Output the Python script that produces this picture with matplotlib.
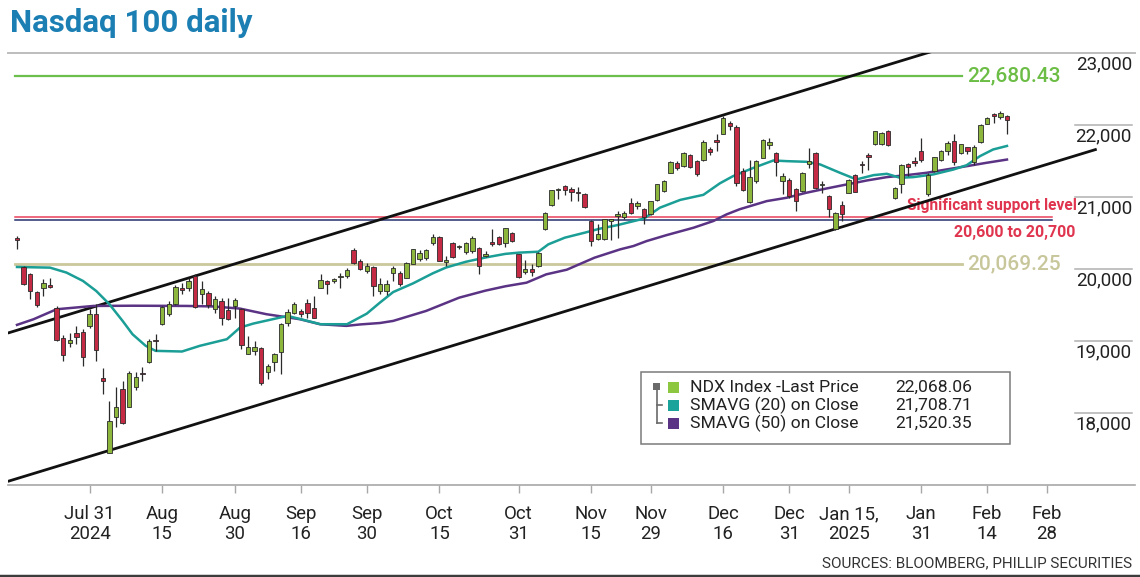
import matplotlib
matplotlib.use("Agg")
import matplotlib.pyplot as plt
import matplotlib.transforms as mtransforms
from matplotlib.patches import Rectangle
from matplotlib.lines import Line2D
import pandas as pd

plt.rcParams['font.family'] = ['Roboto', 'DejaVu Sans']

# US market holidays inside the window, so the x axis runs on trading days
HOLIDAYS = ['2024-09-02', '2024-11-28', '2024-12-25', '2025-01-01',
            '2025-01-09', '2025-01-20', '2025-02-17']

TICK_DATES = ['2024-07-31', '2024-08-15', '2024-08-30', '2024-09-16', '2024-09-30',
              '2024-10-15', '2024-10-31', '2024-11-15', '2024-11-29', '2024-12-16',
              '2024-12-31', '2025-01-15', '2025-01-31', '2025-02-14', '2025-02-28']
TICK_LABELS = ['Jul 31\n2024', 'Aug\n15', 'Aug\n30', 'Sep\n16', 'Sep\n30', 'Oct\n15',
               'Oct\n31', 'Nov\n15', 'Nov\n29', 'Dec\n16', 'Dec\n31', 'Jan 15,\n2025',
               'Jan\n31', 'Feb\n14', 'Feb\n28']

# daily candles, 16 Jul 2024 .. 20 Feb 2025
opens = [20425, 20028, 19927, 19682, 19732, 19779, 19464, 19039, 18975, 19118,
         19131, 19210, 19372, 18480, 17440, 17940, 18330, 18087, 18364, 18560,
         18702, 19020, 19233, 19372, 19511, 19735, 19742, 19903, 19650, 19672,
         19441, 19557, 19432, 19487, 19441, 18826, 18855, 18896, 18563, 18715,
         18854, 19256, 19386, 19420, 19534, 19464, 19742, 19834, 19834, 19895,
         19903, 20259, 20110, 19975, 20028, 19700, 19700, 19950, 19949, 19880,
         20075, 20140, 20150, 20355, 20440, 20100, 20365, 20300, 20230, 20250,
         20296, 20180, 20370, 20444, 20365, 20504, 20203, 19960, 20005, 20041,
         20550, 20885, 21095, 21150, 21105, 21070, 21045, 20665, 20410, 20411,
         20660, 20730, 20725, 20920, 20875, 20836, 20760, 20952, 21082, 21336,
         21474, 21428, 21590, 21498, 21507, 21660, 21790, 21877, 22030, 21975,
         21360, 20925, 21225, 21545, 21720, 21610, 21220, 21240, 21105, 21085,
         21460, 21610, 21160, 21010, 20550, 20885, 21060, 21310, 21460, 21580,
         21730, 21730, 21912, 20980, 21175, 21460, 21500, 21640, 21045, 21360,
         21510, 21640, 21775, 21615, 21690, 21480, 21760, 22020, 22150, 22110,
         22125]
highs = [20458, 20045, 19945, 19700, 19857, 19880, 19485, 19085, 19118, 19210,
         19164, 19441, 19511, 18623, 18170, 18355, 18447, 18586, 18563, 18632,
         19030, 19095, 19490, 19557, 19780, 19811, 19880, 19925, 19834, 19695,
         19626, 19603, 19603, 19595, 19464, 19071, 19000, 18910, 18680, 18840,
         19250, 19440, 19540, 19440, 19580, 19626, 19927, 19850, 19880, 19950,
         20010, 20296, 20140, 20080, 20045, 19880, 19850, 20042, 19970, 20095,
         20280, 20270, 20273, 20480, 20460, 20180, 20380, 20340, 20380, 20460,
         20310, 20250, 20550, 20460, 20575, 20520, 20215, 20130, 20070, 20230,
         20790, 21100, 21125, 21170, 21140, 21140, 21060, 20680, 20625, 20700,
         20700, 20810, 20805, 20980, 20945, 20850, 20950, 21180, 21240, 21495,
         21505, 21625, 21600, 21510, 21790, 21700, 21870, 22122, 22050, 22000,
         21400, 21520, 21510, 21800, 21820, 21630, 21336, 21260, 21120, 21345,
         21680, 21620, 21220, 21030, 20790, 20943, 21250, 21320, 21500, 21610,
         21920, 21900, 21925, 21135, 21460, 21470, 21560, 21820, 21335, 21560,
         21655, 21775, 21870, 21740, 21700, 21720, 22010, 22105, 22168, 22200,
         22140]
lows = [20273, 19780, 19580, 19474, 19626, 19740, 19000, 18725, 18910, 18956,
        18655, 19187, 18725, 18262, 17439, 17800, 17845, 18078, 18318, 18447,
        18690, 18864, 19225, 19349, 19500, 19649, 19700, 19465, 19510, 19465,
        19395, 19224, 19290, 19326, 18886, 18817, 18800, 18390, 18470, 18586,
        18540, 19210, 19370, 19330, 19325, 19320, 19730, 19649, 19800, 19742,
        19880, 20075, 19980, 19950, 19630, 19650, 19640, 19834, 19760, 19870,
        20065, 20115, 20120, 20340, 20105, 20041, 20150, 20280, 20205, 20226,
        19926, 20160, 20320, 20330, 20300, 20380, 19870, 19926, 19900, 20030,
        20540, 20875, 20975, 21030, 20940, 20950, 20850, 20320, 20400, 20400,
        20400, 20430, 20700, 20760, 20830, 20620, 20750, 20940, 21070, 21330,
        21380, 21415, 21400, 21290, 21500, 21590, 21640, 21870, 21935, 21150,
        21080, 20910, 21200, 21540, 21660, 21290, 21036, 20985, 20804, 21075,
        21400, 21110, 21060, 20720, 20540, 20666, 21050, 21070, 21340, 21380,
        21720, 21720, 21715, 20970, 21060, 21290, 21430, 21480, 21010, 21350,
        21500, 21590, 21450, 21600, 21600, 21450, 21750, 22010, 22030, 22080,
        21870]
closes = [20405, 19790, 19695, 19501, 19811, 19752, 19011, 18808, 19020, 19050,
          18780, 19372, 18873, 18440, 17890, 18077, 17855, 18549, 18503, 18540,
          19002, 19005, 19474, 19520, 19751, 19710, 19834, 19474, 19720, 19501,
          19580, 19326, 19303, 19566, 18942, 18923, 18923, 18410, 18655, 18817,
          19233, 19409, 19520, 19380, 19395, 19326, 19843, 19790, 19857, 19905,
          19982, 20088, 19995, 20040, 19765, 19795, 19797, 20020, 19787, 20088,
          20273, 20225, 20270, 20440, 20115, 20130, 20160, 20316, 20365, 20425,
          20041, 20215, 20345, 20351, 20564, 20390, 19890, 20000, 19960, 20217,
          20780, 21095, 21110, 21095, 21065, 21050, 20860, 20395, 20490, 20688,
          20690, 20760, 20780, 20780, 20910, 20720, 20943, 21174, 21229, 21488,
          21405, 21613, 21415, 21322, 21766, 21630, 21760, 22099, 21985, 21190,
          21095, 21275, 21495, 21785, 21770, 21480, 21290, 21012, 20945, 21335,
          21500, 21125, 21180, 20830, 20780, 20757, 21240, 21075, 21440, 21560,
          21910, 21890, 21725, 21128, 21450, 21410, 21470, 21510, 21310, 21550,
          21645, 21750, 21480, 21730, 21640, 21700, 22005, 22095, 22130, 22160,
          22068]

# moving averages, sampled along the drawn curves (trading-day index, value)
sma20_idx = [0, 5, 7.5, 10, 12, 14, 16, 17.5, 19.5, 21, 25, 27.7, 31.8, 33.8, 35.8,
             41, 46, 50, 53, 55, 57, 60, 63, 65, 68, 71, 74, 76, 79, 80.5, 83, 86,
             88.3, 91, 95, 97.4, 100.5, 102.5, 104, 106.5, 108.5, 111.6, 114.6,
             116.6, 119.6, 121.7, 124.7, 127.2, 129.8, 131.8, 133.8, 135.8, 138.8,
             141.9, 143.9, 145.9, 147.9, 150]
sma20_val = [20028, 20019, 19950, 19834, 19695, 19511, 19279, 19094, 18933, 18863,
             18854, 18933, 19025, 19187, 19242, 19349, 19233, 19233, 19380, 19534,
             19680, 19800, 19940, 20020, 20100, 20160, 20210, 20227, 20240, 20342,
             20435, 20504, 20560, 20610, 20700, 20851, 20960, 21000, 21030, 21190,
             21290, 21405, 21507, 21498, 21489, 21452, 21336, 21244, 21304, 21322,
             21267, 21276, 21313, 21382, 21442, 21567, 21660, 21709]
sma50_idx = [0, 2.5, 6, 11.6, 17.6, 25.7, 29.7, 33.8, 37.8, 42.9, 45.9, 49.9, 52,
             55, 57, 62, 67, 71, 74, 77.2, 80.2, 83.3, 87.5, 91.4, 93.4, 95.4, 98.4,
             102.5, 105.5, 106.5, 107.5, 109.5, 113.6, 116.6, 119.6, 122.7, 125.7,
             128.8, 131.8, 134.8, 137.8, 140.8, 143.9, 146.9, 150]
sma50_val = [19224, 19302, 19441, 19487, 19490, 19487, 19480, 19450, 19372, 19302,
             19233, 19210, 19230, 19250, 19279, 19418, 19602, 19700, 19760, 19810,
             19926, 19990, 20157, 20273, 20319, 20388, 20470, 20573, 20666, 20712,
             20758, 20830, 20943, 20989, 21059, 21119, 21174, 21230, 21276, 21304,
             21336, 21382, 21428, 21475, 21520]

# trend channel: two parallel lines (index, value) end points
upper_channel = [(-1.4, 19110), (140.0, 23060)]
lower_channel = [(-1.4, 17050), (163.6, 21664)]

resistance = 22680.43
support = 20069.25
support_band = [20720, 20680]

legend_rows = ['NDX Index -Last Price', 'SMAVG (20) on Close', 'SMAVG (50) on Close']
legend_values = ['22,068.06', '21,708.71', '21,520.35']
legend_colors = ['#8dc63f', '#1aa39a', '#5b3385']

W, H = 1140, 577


def fx(px):
    return px / W


def fy(py):
    return 1 - py / H


days = pd.bdate_range('2024-07-16', '2025-02-28')
days = days[~days.isin(pd.to_datetime(HOLIDAYS))]
tick_pos = days.get_indexer(pd.to_datetime(TICK_DATES))

fig = plt.figure(figsize=(W / 100, H / 100), dpi=100)
ax = fig.add_axes([fx(8), fy(485), fx(1135) - fx(8), fy(53) - fy(485)])
ax.set_xlim(-1.364, 169.4)
ax.set_ylim(17000, 23000)

# frame
for side in ['left', 'right']:
    ax.spines[side].set_visible(False)
ax.spines['top'].set_color('#bdbdbd')
ax.spines['top'].set_linewidth(1.4)
ax.spines['bottom'].set_color('#a8a8a8')
ax.spines['bottom'].set_linewidth(1.2)

ax.set_xticks(tick_pos)
ax.set_xticklabels(TICK_LABELS, fontsize=13.4, color='#222222', linespacing=1.12)
ax.tick_params(axis='x', length=6, width=1, color='#a8a8a8', pad=8.5)
ax.set_yticks([])

# y labels drawn inside the frame on the right, with a short rule above each
ytrans = mtransforms.blended_transform_factory(ax.transAxes, ax.transData)
for v in [18000, 19000, 20000, 21000, 22000, 23000]:
    ax.plot([0.9468, 0.9973], [v, v], transform=ytrans, color='#b0b0b0', lw=1.1,
            clip_on=False, zorder=1)
    ax.annotate(f'{v:,}', xy=(0.9973, v), xycoords=ytrans, xytext=(0, -1.5),
                textcoords='offset points', ha='right', va='top', fontsize=13.5,
                color='#222222')

# horizontal levels
ax.plot([-0.3, 143.2], [resistance, resistance], color='#6dbf4b', lw=1.6, zorder=2)
ax.plot([-0.3, 143.2], [support, support], color='#cac89c', lw=2.0, zorder=2)
ax.plot([-0.3, 156.8], [support_band[0]] * 2, color='#e8405a', lw=1.1, zorder=2)
ax.plot([-0.3, 156.8], [support_band[1]] * 2, color='#26306e', lw=1.1, zorder=2)

ax.text(144.0, resistance, f'{resistance:,.2f}', color='#6cbd45', fontsize=15,
        fontweight='medium', ha='left', va='center')
ax.text(144.0, support, f'{support:,.2f}', color='#c8c79c', fontsize=15,
        fontweight='medium', ha='left', va='center')
ax.text(160.6, 20888, 'Significant support level', color='#e0354f', fontsize=11.2,
        fontweight='bold', ha='right', va='center')
ax.text(160.3, 20513, '20,600 to 20,700', color='#e0354f', fontsize=11.5,
        fontweight='bold', ha='right', va='center')

# channel
for line in [upper_channel, lower_channel]:
    xs, ys = zip(*line)
    ax.plot(xs, ys, color='#111111', lw=2.0, zorder=3, solid_capstyle='butt')

# moving averages
ax.plot(sma50_idx, sma50_val, color='#5b3385', lw=1.8, zorder=4)
ax.plot(sma20_idx, sma20_val, color='#1a9e96', lw=1.8, zorder=4)

# candles
x = list(range(len(opens)))
body_low = [min(o, c) for o, c in zip(opens, closes)]
body_h = [max(abs(c - o), 14) for o, c in zip(opens, closes)]
colors = ['#8cb63c' if c >= o else '#c52a45' for o, c in zip(opens, closes)]
ax.vlines(x, lows, highs, color='#2a2a2a', lw=0.9, zorder=5)
ax.bar(x, body_h, bottom=body_low, width=0.66, color=colors, edgecolor='#2a2a2a',
       linewidth=0.6, zorder=6)

# legend box
fig.add_artist(Rectangle((fx(641), fy(444)), fx(1010) - fx(641), fy(372) - fy(444),
                         transform=fig.transFigure, facecolor='white',
                         edgecolor='#7a7a7a', lw=1.1, zorder=10))
fig.add_artist(Rectangle((fx(653), fy(390)), fx(7), fy(0) - fy(7),
                         transform=fig.transFigure, facecolor='#6a6a6a',
                         edgecolor='none', zorder=11))
fig.add_artist(Line2D([fx(656.5)] * 2, [fy(390), fy(423)], transform=fig.transFigure,
                      color='#6a6a6a', lw=1.2, zorder=11))
for row_y in [405, 423]:
    fig.add_artist(Line2D([fx(656.5), fx(662)], [fy(row_y)] * 2,
                          transform=fig.transFigure, color='#6a6a6a', lw=1.2, zorder=11))
for k, row_y in enumerate([387, 405, 423]):
    fig.add_artist(Rectangle((fx(668), fy(row_y + 5.5)), fx(11), fy(0) - fy(11),
                             transform=fig.transFigure, facecolor=legend_colors[k],
                             edgecolor='none', zorder=11))
    fig.text(fx(690), fy(row_y), legend_rows[k], fontsize=12.6, color='#222222',
             va='center', ha='left', zorder=12)
    fig.text(fx(972), fy(row_y), legend_values[k], fontsize=12.6, color='#222222',
             va='center', ha='right', zorder=12)

# title, source, bottom rule
fig.text(fx(10), fy(23), 'Nasdaq 100 daily', fontsize=22.5, fontweight='bold',
         color='#1b7fb4', va='center', ha='left')
fig.text(fx(1132), fy(563), 'SOURCES: BLOOMBERG, PHILLIP SECURITIES', fontsize=11,
         color='#333333', va='center', ha='right')
fig.add_artist(Line2D([0, 1], [fy(575.5)] * 2, transform=fig.transFigure,
                      color='#3c3c3c', lw=2.5))

fig.savefig('out.png', dpi=100)
